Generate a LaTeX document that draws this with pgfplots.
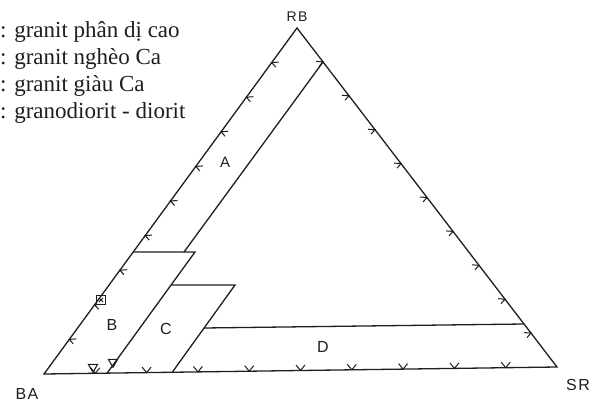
\documentclass[border=0pt]{standalone}
\usepackage{fontspec}
\setmainfont{Liberation Serif}
\newfontfamily\labelfont{Liberation Sans}
\usepackage{pgfplots}
\pgfplotsset{compat=1.18}

\definecolor{ink}{HTML}{1E1E1E}

% tick chevrons along the three sides of the ternary frame
\pgfdeclareplotmark{lchev}{%
  \pgfpathmoveto{\pgfqpoint{7pt}{0.5pt}}%
  \pgfpathlineto{\pgfqpoint{0pt}{0pt}}%
  \pgfpathlineto{\pgfqpoint{4pt}{-4.5pt}}%
  \pgfusepathqstroke}
\pgfdeclareplotmark{rchev}{%
  \pgfpathmoveto{\pgfqpoint{-7pt}{0.5pt}}%
  \pgfpathlineto{\pgfqpoint{0pt}{0pt}}%
  \pgfpathlineto{\pgfqpoint{-4pt}{-4.5pt}}%
  \pgfusepathqstroke}
\pgfdeclareplotmark{bchev}{%
  \pgfpathmoveto{\pgfqpoint{-4.5pt}{5.5pt}}%
  \pgfpathlineto{\pgfqpoint{0pt}{0pt}}%
  \pgfpathlineto{\pgfqpoint{4.5pt}{5.5pt}}%
  \pgfusepathqstroke}

\begin{document}
\begin{tikzpicture}
\begin{axis}[
  at={(0,0)}, anchor=south west,
  width=601pt, height=403pt, scale only axis,
  xmin=0, xmax=601, ymin=0, ymax=403,
  y dir=reverse,
  hide axis, clip=false,
  every axis plot/.append style={ink, line width=1.3pt, line join=miter},
]
% frame: BA - RB - SR
\addplot[mark=none] coordinates {(44,374) (297,28) (557,367) (44,374) (297,28)};
% field A (right boundary)
\addplot[mark=none] coordinates {(323,62) (184,252)};
% field B
\addplot[mark=none] coordinates {(133,252) (195,252) (107,373.3)};
% field C
\addplot[mark=none] coordinates {(171,285) (235,285) (172.5,371.9)};
% field D
\addplot[mark=none] coordinates {(204,328) (524,324)};

% ticks, 10 % steps
\addplot[only marks, mark=lchev, mark options={line width=1pt}] coordinates {
  (271.7,62.6) (246.4,97.2) (221.1,131.8) (195.8,166.4) (170.5,201)
  (145.2,235.6) (119.9,270.2) (94.6,304.8) (69.3,339.4)};
\addplot[only marks, mark=rchev, mark options={line width=1pt}] coordinates {
  (323,61.9) (349,95.8) (375,129.7) (401,163.6) (427,197.5)
  (453,231.4) (479,265.3) (505,299.2) (531,333.1)};
\addplot[only marks, mark=bchev, mark options={line width=1pt}] coordinates {
  (95.3,373.3) (146.6,372.6) (197.9,371.9) (249.2,371.2) (300.5,370.5)
  (351.8,369.8) (403.1,369.1) (454.4,368.4) (505.7,367.7)};

% samples
\addplot[only marks, mark=triangle, mark size=5.3pt,
  mark options={rotate=180, line width=1.1pt, fill=white}] coordinates {(93,367) (113,362)};
\addplot[only marks, mark=square, mark size=4.5pt,
  mark options={line width=1.1pt, fill=white}] coordinates {(101,300)};
\addplot[only marks, mark=x, mark size=3pt,
  mark options={line width=0.8pt}] coordinates {(101,300)};

% vertex and field labels
\node[font=\labelfont\fontsize{14}{16}\selectfont, text=ink] at (axis cs:297,17) {R\hspace{1.5pt}B};
\node[font=\labelfont\fontsize{16}{18}\selectfont, text=ink] at (axis cs:27,394) {B\hspace{1.5pt}A};
\node[font=\labelfont\fontsize{16}{18}\selectfont, text=ink] at (axis cs:578,385) {S\hspace{1.5pt}R};
\node[font=\labelfont\fontsize{15}{17}\selectfont, text=ink] at (axis cs:225,162) {A};
\node[font=\labelfont\fontsize{16}{18}\selectfont, text=ink] at (axis cs:112,325) {B};
\node[font=\labelfont\fontsize{16}{18}\selectfont, text=ink] at (axis cs:166,329) {C};
\node[font=\labelfont\fontsize{16}{18}\selectfont, text=ink] at (axis cs:323,347) {D};

% key to the fields
\node[anchor=base west, inner sep=0pt, text=ink, font=\fontsize{23}{27}\selectfont] at (axis cs:0,38) {: granit phân dị cao};
\node[anchor=base west, inner sep=0pt, text=ink, font=\fontsize{23}{27}\selectfont] at (axis cs:0,65) {: granit nghèo Ca};
\node[anchor=base west, inner sep=0pt, text=ink, font=\fontsize{23}{27}\selectfont] at (axis cs:0,92) {: granit giàu Ca};
\node[anchor=base west, inner sep=0pt, text=ink, font=\fontsize{23}{27}\selectfont] at (axis cs:0,119) {: granodiorit - diorit};
\end{axis}
\pgfresetboundingbox
\path[use as bounding box] (0,0) rectangle (601pt,403pt);
\end{tikzpicture}
\end{document}
